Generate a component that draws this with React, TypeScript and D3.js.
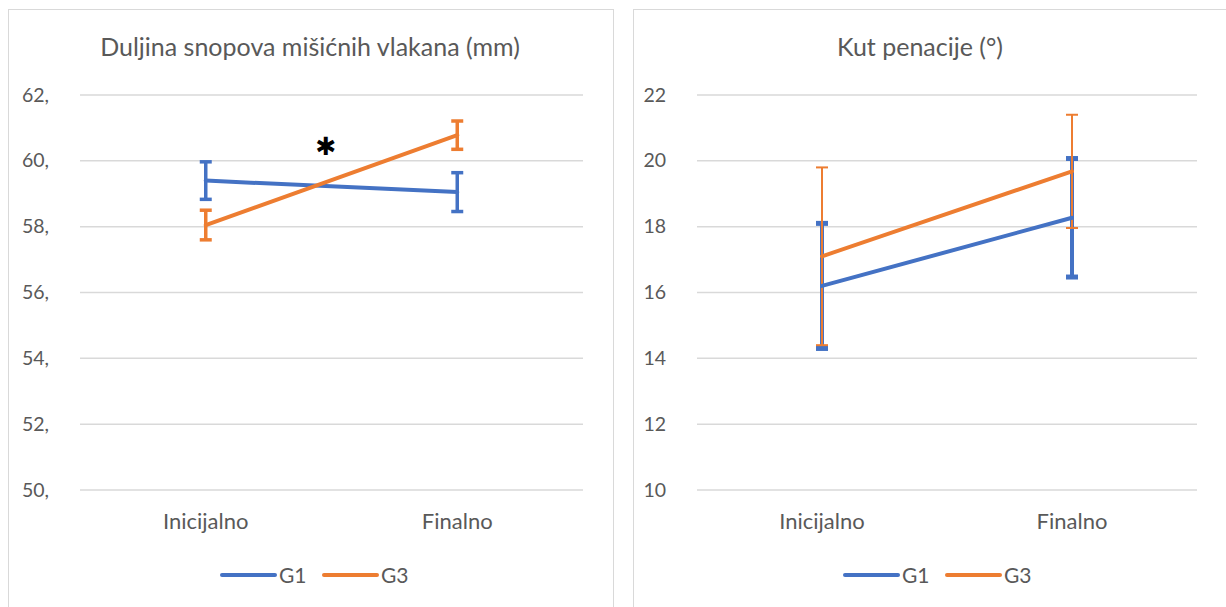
import { useRef, useEffect } from 'react';
import * as d3 from 'd3';

const categories = ['Inicijalno', 'Finalno'];
const seriesNames = ['G1', 'G3'];
const seriesColors = ['#4472C4', '#ED7D31'];

// Duljina snopova (mm)
const fiberG1 = [59.4, 59.05];
const fiberG1Err = [0.57, 0.59];
const fiberG3 = [58.05, 60.78];
const fiberG3Err = [0.45, 0.43];
const fiberTicks = [50, 52, 54, 56, 58, 60, 62];

// Kut penacije (°)
const angleG1 = [16.2, 18.27];
const angleG1Err = [1.9, 1.8];
const angleG3 = [17.1, 19.68];
const angleG3Err = [2.7, 1.72];
const angleTicks = [10, 12, 14, 16, 18, 20, 22];

const FONT = 'Lato, "Open Sans", sans-serif';
const TEXT = '#595959';
const GRID = '#d9d9d9';

interface PanelConfig {
	x0: number;
	width: number;
	plotLeft: number;
	plotRight: number;
	titleX: number;
	title: string;
	ticks: number[];
	tickFmt: (v: number) => string;
	values: number[][];
	errors: number[][];
	errWidth: number[];
	capHeight: number[];
	legendX: number;
	star?: boolean;
}

const panels: PanelConfig[] = [
	{
		x0: 8,
		width: 605,
		plotLeft: 80,
		plotRight: 583,
		titleX: 310,
		title: 'Duljina snopova mišićnih vlakana (mm)',
		ticks: fiberTicks,
		tickFmt: (v) => `${v},`,
		values: [fiberG1, fiberG3],
		errors: [fiberG1Err, fiberG3Err],
		errWidth: [3.5, 3.5],
		capHeight: [3.5, 3.5],
		legendX: 222,
		star: true,
	},
	{
		x0: 633,
		width: 610,
		plotLeft: 697,
		plotRight: 1197,
		titleX: 920,
		title: 'Kut penacije (°)',
		ticks: angleTicks,
		tickFmt: (v) => `${v}`,
		values: [angleG1, angleG3],
		errors: [angleG1Err, angleG3Err],
		errWidth: [4, 2],
		capHeight: [5, 2],
		legendX: 845,
	},
];

export default function App() {
	const svgRef = useRef<SVGSVGElement>(null);

	useEffect(() => {
		const svg = d3.select(svgRef.current);
		svg.selectAll('*').remove();

		panels.forEach((p) => {
			const g = svg.append('g');

			g.append('rect')
				.attr('x', p.x0 + 0.5)
				.attr('y', 9.5)
				.attr('width', p.width)
				.attr('height', 640)
				.attr('fill', '#fff')
				.attr('stroke', GRID);

			const x = d3
				.scaleBand()
				.domain(categories)
				.range([p.plotLeft, p.plotRight]);
			const y = d3
				.scaleLinear()
				.domain([p.ticks[0], p.ticks[p.ticks.length - 1]])
				.range([490, 95]);
			const cx = (c: string) => (x(c) as number) + x.bandwidth() / 2;

			// Title
			g.append('text')
				.attr('x', p.titleX)
				.attr('y', 56)
				.attr('text-anchor', 'middle')
				.attr('font-size', 25)
				.attr('fill', TEXT)
				.text(p.title);

			// Grid + tick labels
			p.ticks.forEach((t) => {
				g.append('line')
					.attr('x1', p.plotLeft)
					.attr('x2', p.plotRight)
					.attr('y1', y(t))
					.attr('y2', y(t))
					.attr('stroke', GRID)
					.attr('stroke-width', 1.5);
				g.append('text')
					.attr('x', p.plotLeft - 31)
					.attr('y', y(t) + 6.5)
					.attr('text-anchor', 'end')
					.attr('font-size', 19.5)
					.attr('fill', TEXT)
					.text(p.tickFmt(t));
			});

			// Category labels
			categories.forEach((c) => {
				g.append('text')
					.attr('x', cx(c))
					.attr('y', 529)
					.attr('text-anchor', 'middle')
					.attr('font-size', 22)
					.attr('fill', TEXT)
					.text(c);
			});

			// Error bars
			p.values.forEach((vals, si) => {
				const col = seriesColors[si];
				vals.forEach((v, i) => {
					const px = cx(categories[i]);
					const e = p.errors[si][i];
					g.append('line')
						.attr('x1', px)
						.attr('x2', px)
						.attr('y1', y(v + e))
						.attr('y2', y(v - e))
						.attr('stroke', col)
						.attr('stroke-width', p.errWidth[si]);
					[v + e, v - e].forEach((ev) => {
						g.append('line')
							.attr('x1', px - 6)
							.attr('x2', px + 6)
							.attr('y1', y(ev))
							.attr('y2', y(ev))
							.attr('stroke', col)
							.attr('stroke-width', p.capHeight[si]);
					});
				});
			});

			// Lines
			const line = d3
				.line<number>()
				.x((_, i) => cx(categories[i]))
				.y((d) => y(d));
			p.values.forEach((vals, si) => {
				g.append('path')
					.attr('d', line(vals))
					.attr('fill', 'none')
					.attr('stroke', seriesColors[si])
					.attr('stroke-width', 4)
					.attr('stroke-linecap', 'round');
			});

			if (p.star) {
				g.append('text')
					.attr('x', 326)
					.attr('y', 155)
					.attr('text-anchor', 'middle')
					.attr('font-size', 25)
					.attr('font-family', 'DejaVu Sans')
					.attr('fill', '#000')
					.text('✱');
			}

			// Legend
			seriesNames.forEach((name, si) => {
				const lx = p.legendX + si * 102;
				g.append('line')
					.attr('x1', lx)
					.attr('x2', lx + 53)
					.attr('y1', 575)
					.attr('y2', 575)
					.attr('stroke', seriesColors[si])
					.attr('stroke-width', 4)
					.attr('stroke-linecap', 'round');
				g.append('text')
					.attr('x', lx + 57)
					.attr('y', 582.5)
					.attr('font-size', 21)
					.attr('fill', TEXT)
					.text(name);
			});
		});
	}, []);

	return (
		<svg
			ref={svgRef}
			width={1226}
			height={607}
			style={{
				position: 'absolute',
				left: 0,
				top: 0,
				fontFamily: FONT,
				display: 'block',
				background: '#fff',
			}}
		/>
	);
}
